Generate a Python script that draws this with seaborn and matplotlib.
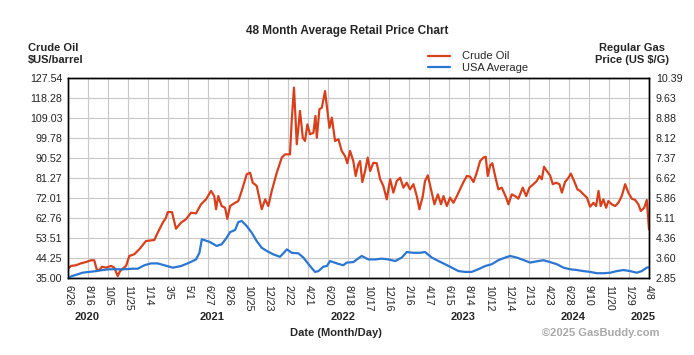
import matplotlib
matplotlib.use("Agg")
import matplotlib.pyplot as plt
import matplotlib.transforms as mtransforms
from matplotlib.lines import Line2D
import seaborn as sns

sns.set_style("white")
plt.rcParams["font.family"] = ["Liberation Sans", "DejaVu Sans"]

# x positions are in "tick slots" along the date axis (0 = 6/26/2020, 29 = 4/8/2025)
date_labels = ["6/26", "8/16", "10/5", "11/25", "1/14", "3/5", "5/1", "6/27", "8/26", "10/25",
               "12/23", "2/22", "4/21", "6/20", "8/18", "10/17", "12/16", "2/16", "4/17", "6/15",
               "8/14", "10/12", "12/14", "2/13", "4/23", "6/28", "9/10", "11/20", "1/29", "4/8"]
years = ["2020", "2021", "2022", "2023", "2024", "2025"]
year_pos = [0.93, 7.2, 13.75, 19.74, 25.23, 28.72]

crude_ticks = ["35.00", "44.25", "53.51", "62.76", "72.01", "81.27", "90.52", "99.78",
               "109.03", "118.28", "127.54"]
gas_ticks = ["2.85", "3.60", "4.36", "5.11", "5.86", "6.62", "7.37", "8.12", "8.88", "9.63", "10.39"]

crude_pos = [0.00, 0.15, 0.40, 0.65, 0.90, 1.15, 1.31, 1.43, 1.56, 1.70, 1.90, 2.15, 2.31, 2.48,
             2.60, 2.73, 2.90, 3.06, 3.31, 3.56, 3.89, 4.31, 4.48, 4.73, 4.89, 4.98, 5.19, 5.39,
             5.64, 5.89, 6.14, 6.39, 6.64, 6.89, 7.14, 7.30, 7.39, 7.50, 7.67, 7.84, 7.95, 8.09,
             8.34, 8.50, 8.67, 8.92, 9.09, 9.22, 9.42, 9.67, 9.84, 10.00, 10.17, 10.42, 10.67,
             10.83, 11.08, 11.17, 11.28, 11.42, 11.58, 11.72, 11.83, 11.95, 12.08, 12.25, 12.35,
             12.42, 12.55, 12.67, 12.83, 13.05, 13.17, 13.33, 13.50, 13.66, 13.83, 13.94, 14.08,
             14.24, 14.36, 14.49, 14.58, 14.69, 14.83, 14.96, 15.08, 15.24, 15.41, 15.58, 15.74,
             15.91, 16.08, 16.24, 16.41, 16.58, 16.74, 16.91, 17.07, 17.24, 17.41, 17.54, 17.71,
             17.82, 17.96, 18.12, 18.29, 18.46, 18.62, 18.74, 18.91, 19.07, 19.24, 19.41, 19.57,
             19.74, 19.91, 20.07, 20.24, 20.40, 20.57, 20.73, 20.85, 20.95, 21.07, 21.18, 21.32,
             21.48, 21.65, 21.87, 21.98, 22.15, 22.32, 22.48, 22.70, 22.87, 23.03, 23.23, 23.40,
             23.53, 23.65, 23.76, 23.90, 24.06, 24.20, 24.36, 24.53, 24.65, 24.81, 24.98, 25.10,
             25.26, 25.43, 25.56, 25.73, 25.90, 26.06, 26.23, 26.36, 26.48, 26.59, 26.72, 26.86,
             26.97, 27.14, 27.31, 27.47, 27.64, 27.81, 27.97, 28.14, 28.31, 28.47, 28.59, 28.76,
             28.89, 29.00]
crude_price = [39.3, 40.6, 40.9, 41.8, 42.4, 43.2, 43.2, 39.0, 38.6, 40.2, 39.8, 40.6, 39.8, 35.9,
               38.2, 39.3, 40.6, 45.2, 46.0, 48.3, 52.1, 52.6, 56.0, 60.6, 62.9, 65.5, 65.5, 57.8,
               60.6, 62.2, 65.2, 64.9, 69.1, 71.4, 75.3, 72.9, 66.8, 72.9, 68.3, 67.5, 62.4, 68.3,
               69.8, 70.6, 75.3, 83.0, 83.7, 79.1, 77.6, 66.8, 71.4, 68.3, 75.3, 83.7, 90.7,
               92.2, 92.2, 108.4, 123.1, 96.9, 112.3, 99.9, 98.4, 106.1, 101.5, 102.2, 110.0,
               99.9, 113.1, 113.8, 121.5, 104.5, 109.2, 98.4, 99.2, 93.8, 91.4, 88.1, 93.8,
               89.1, 82.2, 87.6, 89.1, 79.4, 84.5, 90.7, 84.5, 88.3, 88.1, 80.7, 77.6,
               71.4, 80.7, 74.5, 79.9, 81.4, 76.8, 79.1, 76.0, 78.4, 72.9, 66.8, 72.9,
               79.9, 82.5, 76.0, 69.1, 73.7, 69.1, 72.9, 68.3, 72.2, 69.8, 72.9, 76.0,
               79.4, 82.2, 81.9, 79.4, 83.7, 89.1, 90.7, 91.1, 82.2, 87.1, 88.1, 82.2,
               76.0, 76.8, 72.2, 69.1, 73.7, 72.9, 71.7, 76.8, 72.9, 76.8, 78.4, 79.9,
               82.2, 80.7, 86.5, 84.5, 82.5, 78.4, 79.1, 78.4, 74.5, 79.4, 81.4, 83.3,
               79.9, 76.0, 75.3, 73.7, 72.2, 68.0, 69.8, 68.3, 75.3, 68.3, 71.4, 67.5,
               70.6, 69.1, 68.3, 69.8, 72.9, 78.4, 74.5, 71.7, 71.1, 69.1, 66.0, 67.5,
               71.1, 57.5]

gas_pos = [0.00, 0.23, 0.48, 0.73, 1.06, 1.40, 1.73, 2.06, 2.40, 2.81, 3.23, 3.48, 3.81, 4.14,
           4.48, 4.81, 5.23, 5.64, 6.06, 6.39, 6.56, 6.68, 6.80, 7.07, 7.42, 7.67, 7.92, 8.09,
           8.34, 8.50, 8.67, 8.92, 9.17, 9.42, 9.67, 9.92, 10.25, 10.58, 10.75, 10.92, 11.17,
           11.50, 11.75, 12.08, 12.33, 12.50, 12.75, 12.92, 13.08, 13.42, 13.74, 13.91, 14.24,
           14.66, 14.99, 15.33, 15.66, 15.99, 16.33, 16.66, 16.91, 17.24, 17.57, 17.82, 18.16,
           18.49, 18.82, 19.16, 19.49, 19.82, 20.15, 20.48, 20.82, 21.15, 21.48, 21.82, 22.07,
           22.40, 22.73, 23.07, 23.40, 23.73, 24.06, 24.40, 24.73, 25.06, 25.40, 25.73, 26.06,
           26.40, 26.74, 27.07, 27.39, 27.72, 28.06, 28.39, 28.64, 28.89, 29.00]
gas_price = [2.86, 2.93, 2.99, 3.05, 3.08, 3.11, 3.15, 3.18, 3.18, 3.18, 3.20, 3.20, 3.33, 3.40,
             3.40, 3.33, 3.24, 3.30, 3.43, 3.55, 3.80, 4.31, 4.28, 4.21, 4.06, 4.12, 4.37, 4.58,
             4.66, 4.96, 5.00, 4.81, 4.56, 4.24, 3.99, 3.87, 3.74, 3.65, 3.78, 3.93, 3.80,
             3.78, 3.62, 3.30, 3.08, 3.11, 3.28, 3.30, 3.49, 3.40, 3.33, 3.43, 3.45,
             3.68, 3.55, 3.55, 3.58, 3.55, 3.49, 3.62, 3.83, 3.80, 3.80, 3.83, 3.62,
             3.49, 3.37, 3.24, 3.11, 3.08, 3.08, 3.18, 3.30, 3.37, 3.52, 3.62, 3.68,
             3.62, 3.53, 3.43, 3.48, 3.52, 3.45, 3.37, 3.24, 3.18, 3.15, 3.11, 3.08,
             3.03, 3.03, 3.05, 3.11, 3.15, 3.11, 3.05, 3.11, 3.24, 3.26]

crude_color = "#d8401c"
gas_color = "#2a76d2"

fig = plt.figure(figsize=(6.94, 3.55), dpi=100)
ax = fig.add_axes([68 / 694, 1 - 278 / 355, 581 / 694, 200 / 355])
ax2 = ax.twinx()

sns.lineplot(x=crude_pos, y=crude_price, ax=ax, color=crude_color, linewidth=1.6)
sns.lineplot(x=gas_pos, y=gas_price, ax=ax2, color=gas_color, linewidth=1.6)

ax.set_xlim(0, len(date_labels) - 1)
ax.set_ylim(35, 127.54)
ax2.set_ylim(2.85, 10.39)

ax.set_xticks(range(len(date_labels)))
ax.set_xticklabels(date_labels, rotation=270, fontsize=7.7, color="#222222")
yt = [35 + i * (127.54 - 35) / 10 for i in range(11)]
ax.set_yticks(yt)
ax.set_yticklabels(crude_ticks, fontsize=7.7, color="#222222")
yt2 = [2.85 + i * (10.39 - 2.85) / 10 for i in range(11)]
ax2.set_yticks(yt2)
ax2.set_yticklabels(gas_ticks, fontsize=7.7, color="#222222")
ax.tick_params(axis="x", length=0, pad=5)
ax.tick_params(axis="y", length=0, pad=4)
ax2.tick_params(axis="y", length=0, pad=5)
ax.set_xlabel("")
ax.set_ylabel("")
ax2.set_ylabel("")

ax.grid(True, color="#c8c8c8", linewidth=0.8)
ax2.grid(False)
for a in (ax, ax2):
    for s in a.spines.values():
        s.set_color("black")
        s.set_linewidth(1.0)

# year labels below the dates
trans = mtransforms.blended_transform_factory(ax.transData, fig.transFigure)
for yr, p in zip(years, year_pos):
    ax.text(p, 1 - 317 / 355, yr, transform=trans, ha="center", va="center",
            fontsize=8, fontweight="bold")

fig.text(0.5, 1 - 31 / 355, "48 Month Average Retail Price Chart", ha="center", va="center",
         fontsize=8.5, fontweight="bold")
fig.text(28 / 694, 1 - 54 / 355, "Crude Oil\n$US/barrel", ha="left", va="center",
         fontsize=8, fontweight="bold", linespacing=1.3)
fig.text(632 / 694, 1 - 54 / 355, "Regular Gas\nPrice (US $/G)", ha="center", va="center",
         fontsize=8, fontweight="bold", linespacing=1.3)
fig.text(336 / 694, 1 - 333 / 355, "Date (Month/Day)", ha="center", va="center",
         fontsize=8, fontweight="bold")
fig.text(601 / 694, 1 - 333 / 355, "\u00a92025 GasBuddy.com", ha="center", va="center",
         fontsize=8, fontweight="bold", color="#a8a8a8")

handles = [Line2D([], [], color=crude_color, linewidth=1.6),
           Line2D([], [], color=gas_color, linewidth=1.6)]
fig.legend(handles, ["Crude Oil", "USA Average"], loc="center left",
           bbox_to_anchor=(422 / 694, 1 - 62 / 355), frameon=False, fontsize=8,
           handlelength=2.0, handletextpad=1.1, labelspacing=0.1, borderpad=0)

fig.savefig("out.png", dpi=100)
